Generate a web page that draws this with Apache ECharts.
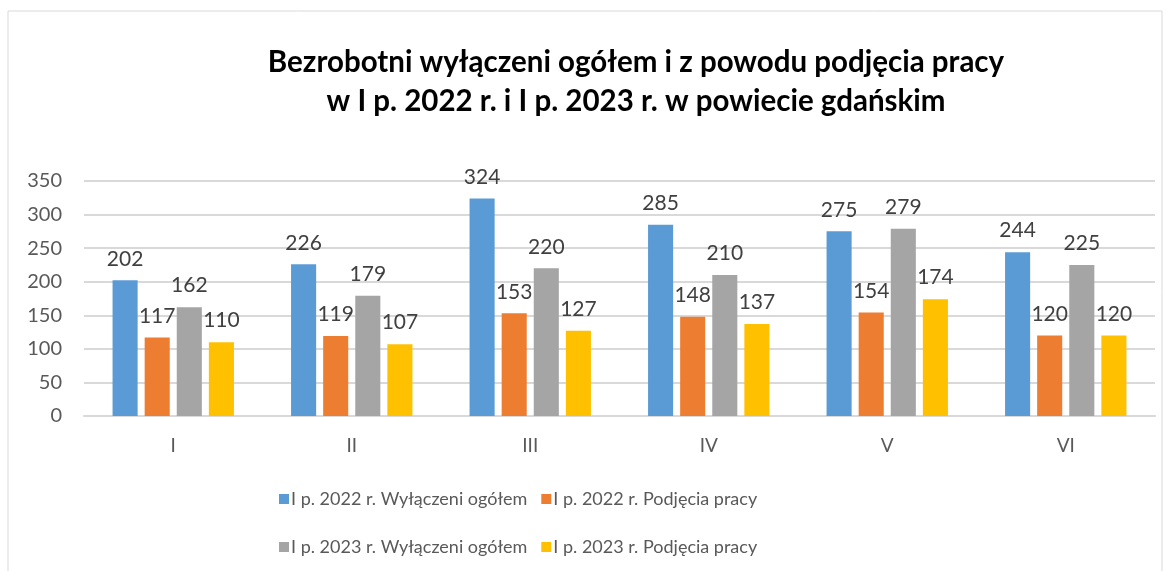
<!DOCTYPE html>
<html>
<head>
<meta charset="utf-8">
<title>Bezrobotni wyłączeni</title>
<script src="https://cdn.jsdelivr.net/npm/echarts@6/dist/echarts.min.js"></script>
<style>
  html, body { margin: 0; padding: 0; background: #fff; }
  #chart { width: 1171px; height: 571px; }
</style>
</head>
<body>
<div id="chart"></div>
<script>
  var months = ['I', 'II', 'III', 'IV', 'V', 'VI'];
  var seriesNames = [
    'I p. 2022 r. Wyłączeni ogółem',
    'I p. 2022 r. Podjęcia pracy',
    'I p. 2023 r. Wyłączeni ogółem',
    'I p. 2023 r. Podjęcia pracy'
  ];
  var wylaczeni2022 = [202, 226, 324, 285, 275, 244];
  var podjecia2022 = [117, 119, 153, 148, 154, 120];
  var wylaczeni2023 = [162, 179, 220, 210, 279, 225];
  var podjecia2023 = [110, 107, 127, 137, 174, 120];
  var colors = ['#5b9bd5', '#ed7d31', '#a5a5a5', '#ffc000'];

  var font = 'Lato, "Liberation Sans", sans-serif';
  var chart = echarts.init(document.getElementById('chart'));

  function bar(i, data) {
    return {
      name: seriesNames[i],
      type: 'bar',
      data: data,
      barGap: '28%',
      barCategoryGap: '32%',
      itemStyle: { color: colors[i] },
      label: {
        show: true,
        position: 'top',
        distance: 11,
        color: '#404040',
        fontSize: 21,
        fontFamily: font
      }
    };
  }

  var legendText = { fontSize: 18, color: '#595959', fontFamily: font, padding: [0, 0, 0, -3] };

  var option = {
    animation: false,
    textStyle: { fontFamily: font },
    graphic: [{
      type: 'rect',
      shape: { x: 8, y: 11, width: 1154, height: 580 },
      style: { fill: 'none', stroke: '#d9d9d9', lineWidth: 1 }
    }],
    title: {
      text: 'Bezrobotni wyłączeni ogółem i z powodu podjęcia pracy\nw I p. 2022 r. i I p. 2023 r. w powiecie gdańskim',
      left: 631,
      top: 38,
      textAlign: 'center',
      textStyle: {
        fontSize: 29.5,
        fontWeight: 'bold',
        color: '#000',
        lineHeight: 39,
        fontFamily: font
      }
    },
    legend: [{
      data: seriesNames.slice(0, 2),
      left: 274,
      top: 485,
      itemWidth: 10,
      itemHeight: 10,
      itemGap: 14,
      icon: 'rect',
      textStyle: legendText
    }, {
      data: seriesNames.slice(2, 4),
      left: 274,
      top: 533,
      itemWidth: 10,
      itemHeight: 10,
      itemGap: 14,
      icon: 'rect',
      textStyle: legendText
    }],
    grid: { left: 84, right: 16, top: 181, bottom: 155, containLabel: false },
    xAxis: {
      type: 'category',
      data: months,
      axisLine: { lineStyle: { color: '#d9d9d9', width: 2 } },
      axisTick: { show: false },
      axisLabel: { color: '#595959', fontSize: 19, margin: 20, fontFamily: font }
    },
    yAxis: {
      type: 'value',
      min: 0,
      max: 350,
      interval: 50,
      axisLine: { show: false },
      axisTick: { show: false },
      splitLine: { lineStyle: { color: '#d9d9d9', width: 2 } },
      axisLabel: { color: '#595959', fontSize: 20, margin: 22, fontFamily: font }
    },
    series: [
      bar(0, wylaczeni2022),
      bar(1, podjecia2022),
      bar(2, wylaczeni2023),
      bar(3, podjecia2023)
    ]
  };
  chart.setOption(option);
</script>
</body>
</html>
